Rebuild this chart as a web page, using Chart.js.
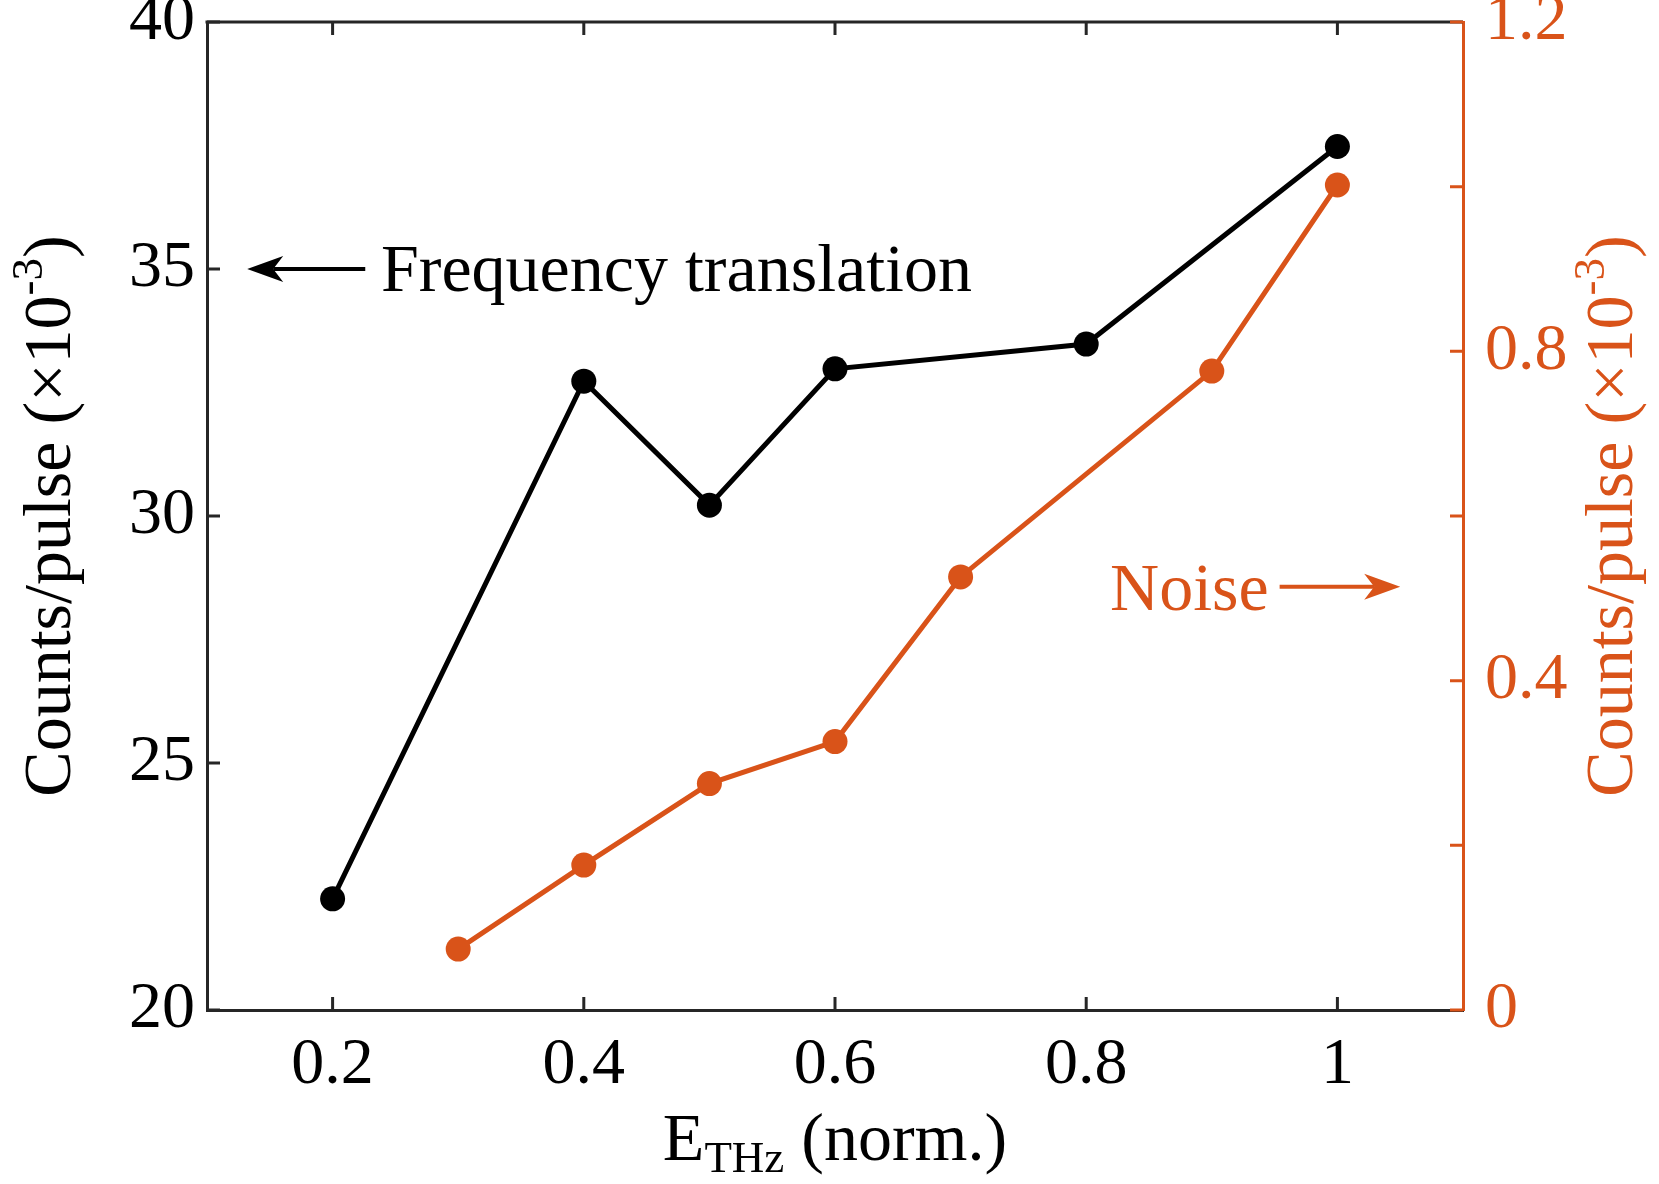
<!DOCTYPE html>
<html>
<head>
<meta charset="utf-8">
<script src="https://cdn.jsdelivr.net/npm/chart.js@4.4.0/dist/chart.umd.min.js"></script>
<style>
html, body { margin: 0; padding: 0; background: #fff; }
</style>
</head>
<body>
<canvas id="myChart" width="1659" height="1184"></canvas>
<script>
// frequency translation signal (left axis) and noise (right axis)
var signalX = [0.2, 0.4, 0.5, 0.6, 0.8, 1.0];
var signalY = [22.25, 32.73, 30.22, 32.98, 33.48, 37.48];
var noiseX = [0.3, 0.4, 0.5, 0.6, 0.7, 0.9, 1.0];
var noiseY = [0.074, 0.176, 0.275, 0.326, 0.526, 0.776, 1.002];

var xTicks = [0.2, 0.4, 0.6, 0.8, 1];
var leftTicks = [20, 25, 30, 35, 40];
var rightTicks = [0, 0.2, 0.4, 0.6, 0.8, 1.0, 1.2];
var rightLabels = ["0", "", "0.4", "", "0.8", "", "1.2"];

var serif = '"Liberation Serif", "Times New Roman", serif';
var orange = "#D95319";
var axisColor = "#262626";

Chart.defaults.font.family = serif;
Chart.defaults.font.size = 66;
Chart.defaults.color = "#000";

function toPoints(xs, ys) {
	return xs.map(function (x, i) { return { x: x, y: ys[i] }; });
}

// draw text pieces (normal, sub, super) one after another
function drawParts(ctx, parts, x, y, color) {
	var total = 0;
	parts.forEach(function (p) {
		ctx.font = p.size + "px " + serif;
		p.w = ctx.measureText(p.t).width;
		total += p.w;
	});
	var cx = x - total / 2;
	ctx.fillStyle = color;
	ctx.textBaseline = "alphabetic";
	ctx.textAlign = "left";
	parts.forEach(function (p) {
		ctx.font = p.size + "px " + serif;
		ctx.fillText(p.t, cx, y + (p.dy || 0));
		cx += p.w;
	});
}

function arrow(ctx, x0, y0, x1, y1, color) {
	var len = Math.hypot(x1 - x0, y1 - y0);
	ctx.save();
	ctx.translate(x1, y1);
	ctx.rotate(Math.atan2(y1 - y0, x1 - x0));
	ctx.strokeStyle = color;
	ctx.fillStyle = color;
	ctx.lineWidth = 4;
	ctx.beginPath();
	ctx.moveTo(-len, 0);
	ctx.lineTo(-26, 0);
	ctx.stroke();
	ctx.beginPath();
	ctx.moveTo(0, 0);
	ctx.lineTo(-36, -13);
	ctx.lineTo(-26, 0);
	ctx.lineTo(-36, 13);
	ctx.closePath();
	ctx.fill();
	ctx.restore();
}

function noPad(s) {
	s.paddingTop = 0;
	s.paddingBottom = 0;
	s.paddingLeft = 0;
	s.paddingRight = 0;
}

var decorations = {
	id: "decorations",
	beforeDatasetsDraw: function (chart) {
		var ctx = chart.ctx;
		var a = chart.chartArea;
		var sx = chart.scales.x, sy = chart.scales.y, sy1 = chart.scales.y1;
		ctx.save();
		ctx.lineWidth = 3;
		ctx.strokeStyle = axisColor;
		// top box line
		ctx.beginPath();
		ctx.moveTo(a.left - 1.5, a.top);
		ctx.lineTo(a.right, a.top);
		ctx.stroke();
		// inward tick marks
		ctx.beginPath();
		sx.ticks.forEach(function (t) {
			var px = sx.getPixelForValue(t.value);
			ctx.moveTo(px, a.bottom);
			ctx.lineTo(px, a.bottom - 13);
			ctx.moveTo(px, a.top);
			ctx.lineTo(px, a.top + 13);
		});
		sy.ticks.forEach(function (t) {
			var py = sy.getPixelForValue(t.value);
			ctx.moveTo(a.left, py);
			ctx.lineTo(a.left + 13, py);
		});
		ctx.stroke();
		ctx.strokeStyle = orange;
		ctx.beginPath();
		sy1.ticks.forEach(function (t) {
			var py = sy1.getPixelForValue(t.value);
			ctx.moveTo(a.right, py);
			ctx.lineTo(a.right - 13, py);
		});
		ctx.stroke();
		ctx.restore();
	},
	afterDraw: function (chart) {
		var ctx = chart.ctx;
		var a = chart.chartArea;
		var sx = chart.scales.x, sy = chart.scales.y, sy1 = chart.scales.y1;
		var midY = (a.top + a.bottom) / 2;
		ctx.save();

		// axis titles
		var yTitle = [
			{ t: "Counts/pulse (\u00d710", size: 68 },
			{ t: "-3", size: 45, dy: -28 },
			{ t: ")", size: 68 }
		];
		ctx.save();
		ctx.translate(70, midY);
		ctx.rotate(-Math.PI / 2);
		drawParts(ctx, yTitle, 0, 0, "#000");
		ctx.restore();
		ctx.save();
		ctx.translate(1632, midY);
		ctx.rotate(-Math.PI / 2);
		drawParts(ctx, yTitle, 0, 0, orange);
		ctx.restore();
		drawParts(ctx, [
			{ t: "E", size: 68 },
			{ t: "THz", size: 45, dy: 12 },
			{ t: " (norm.)", size: 68 }
		], (a.left + a.right) / 2, 1160, "#000");

		// annotations
		var fy = sy.getPixelForValue(35);
		arrow(ctx, sx.getPixelForValue(0.226), fy, sx.getPixelForValue(0.132), fy, "#000");
		ctx.font = "68px " + serif;
		ctx.fillStyle = "#000";
		ctx.textAlign = "left";
		ctx.textBaseline = "alphabetic";
		ctx.fillText("Frequency translation", sx.getPixelForValue(0.2385), fy + 22);

		var ny = sy1.getPixelForValue(0.514);
		arrow(ctx, sx.getPixelForValue(0.954), ny, sx.getPixelForValue(1.05), ny, orange);
		ctx.fillStyle = orange;
		ctx.fillText("Noise", sx.getPixelForValue(0.819), ny + 23);
		ctx.restore();
	}
};

var ctx = document.getElementById("myChart");
var myChart = new Chart(ctx, {
	type: "scatter",
	data: {
		datasets: [
			{
				label: "Frequency translation",
				data: toPoints(signalX, signalY),
				yAxisID: "y",
				showLine: true,
				borderColor: "#000",
				backgroundColor: "#000",
				borderWidth: 5,
				pointRadius: 12.5,
				pointBorderWidth: 0,
			},
			{
				label: "Noise",
				data: toPoints(noiseX, noiseY),
				yAxisID: "y1",
				showLine: true,
				borderColor: orange,
				backgroundColor: orange,
				borderWidth: 5,
				pointRadius: 12.5,
				pointBorderWidth: 0,
			},
		],
	},
	options: {
		responsive: false,
		animation: false,
		events: [],
		layout: { padding: { top: 22, left: 0, right: 0, bottom: 0 } },
		plugins: {
			legend: { display: false },
			tooltip: { enabled: false },
		},
		scales: {
			x: {
				type: "linear",
				min: 0.1,
				max: 1.1,
				afterBuildTicks: function (s) { s.ticks = xTicks.map(function (v) { return { value: v }; }); },
				afterFit: function (s) { s.height = 174; noPad(s); },
				grid: { display: false, drawTicks: false },
				border: { display: true, color: axisColor, width: 3 },
				ticks: {
					padding: 16,
					color: "#000",
					maxRotation: 0,
					callback: function (v) { return String(v); },
				},
			},
			y: {
				type: "linear",
				position: "left",
				min: 20,
				max: 40,
				afterBuildTicks: function (s) { s.ticks = leftTicks.map(function (v) { return { value: v }; }); },
				afterFit: function (s) { s.width = 207; noPad(s); },
				grid: { display: false, drawTicks: false },
				border: { display: true, color: axisColor, width: 3 },
				ticks: { padding: 12, color: "#000" },
			},
			y1: {
				type: "linear",
				position: "right",
				min: 0,
				max: 1.2,
				afterBuildTicks: function (s) { s.ticks = rightTicks.map(function (v) { return { value: v }; }); },
				afterFit: function (s) { s.width = 196; noPad(s); },
				grid: { display: false, drawTicks: false },
				border: { display: true, color: orange, width: 3 },
				ticks: {
					padding: 22,
					color: orange,
					callback: function (v, i) { return rightLabels[i]; },
				},
			},
		},
	},
	plugins: [decorations],
});
</script>
</body>
</html>
